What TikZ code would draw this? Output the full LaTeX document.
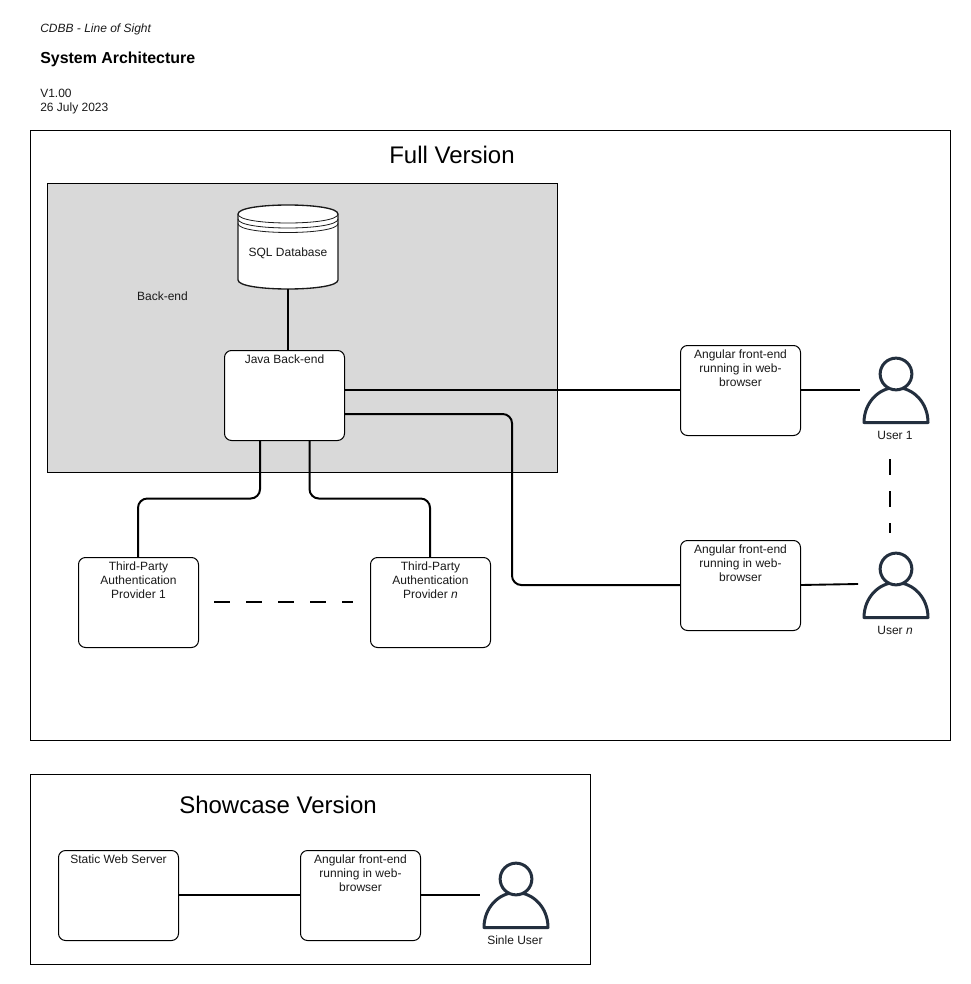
\documentclass[tikz,border=0pt]{standalone}
\usepackage{fontspec}
\setmainfont{Liberation Sans}
\definecolor{backgray}{HTML}{D9D9D9}
\definecolor{persona}{HTML}{232F3E}
\definecolor{txt}{HTML}{1A1A1A}
\tikzset{
  x=0.75pt,y=-0.75pt,
  frame/.style={draw=black,line width=0.75pt,fill=white,inner sep=0pt,outer sep=0pt},
  roundbox/.style={draw=black,line width=0.75pt,fill=white,rounded corners=5.25pt,inner sep=0pt,outer sep=0pt,minimum width=90pt,minimum height=67.5pt},
  boxtext/.style={anchor=north,align=center,inner sep=0pt,yshift=-2.7pt,text=txt,font=\fontsize{9}{10.5}\selectfont},
  small/.style={anchor=base west,inner sep=0pt,text=txt,font=\fontsize{9}{10.5}\selectfont},
  smallc/.style={anchor=base,inner sep=0pt,text=txt,font=\fontsize{9}{10.5}\selectfont},
  big/.style={anchor=base,inner sep=0pt,text=black,font=\fontsize{18}{21}\selectfont},
  conn/.style={draw=black,line width=1.5pt,line cap=butt},
  elbowconn/.style={conn,rounded corners=7pt},
  gapline/.style={conn,dash pattern=on 12pt off 12pt},
  personline/.style={draw=persona,line width=2.25pt,line join=round},
  pics/person/.style={code={
    \draw[personline] (-32,0) .. controls (-32,-20) and (-17,-35) .. (0,-35) .. controls (17,-35) and (32,-20) .. (32,0) -- cycle;
    \draw[personline,fill=white] (0,-48.5) circle[radius=11.9pt];
  }}
}
\begin{document}
\begin{tikzpicture}
\useasboundingbox (0,0) rectangle (970,984);
% frames
\draw[frame] (30.5,130.5) rectangle (950.5,740.5);
\draw[frame] (30.5,774.5) rectangle (590.5,964.5);
\draw[draw=black,line width=0.75pt,fill=backgray] (47,183.5) rectangle (557,472.5);
% header
\node[small,font=\fontsize{9}{10.5}\selectfont\itshape] (doc) at (40,33) {CDBB - Line of Sight};
\node[anchor=base west,inner sep=0pt,text=black,font=\fontsize{11.95}{14}\selectfont\bfseries] (head) at (40,64) {System Architecture};
\node[small] (ver) at (40,98) {V1.00};
\node[small] (date) at (40,112) {26 July 2023};
\node[big] (full) at (452,164) {Full Version};
\node[big] (show) at (278,813) {Showcase Version};
\node[smallc] (backlabel) at (162.5,300) {Back-end};
% boxes
\node[roundbox] (j) at (284.5,395.5) {};
\node[boxtext] (jt) at (j.north) {Java Back-end};
\node[roundbox] (a1) at (740.5,390.5) {};
\node[boxtext] (a1t) at (a1.north) {Angular front-end\\running in web-\\browser};
\node[roundbox] (a2) at (740.5,585.5) {};
\node[boxtext] (a2t) at (a2.north) {Angular front-end\\running in web-\\browser};
\node[roundbox] (p1) at (138.5,602.5) {};
\node[boxtext] (p1t) at (p1.north) {Third-Party\\Authentication\\Provider 1};
\node[roundbox] (pn) at (430.5,602.5) {};
\node[boxtext] (pnt) at (pn.north) {Third-Party\\Authentication\\Provider \textit{n}};
\node[roundbox] (sws) at (118.5,895.5) {};
\node[boxtext] (swst) at (sws.north) {Static Web Server};
\node[roundbox] (a3) at (360.5,895.5) {};
\node[boxtext] (a3t) at (a3.north) {Angular front-end\\running in web-\\browser};
% database
\node[inner sep=0pt,outer sep=0pt,minimum width=75pt,minimum height=63pt] (db) at (288,247) {};
\draw[fill=white,draw=txt,line width=1pt] (238,214) .. controls (238,202) and (338,202) .. (338,214) -- (338,280) .. controls (338,292) and (238,292) .. (238,280) -- cycle;
\draw[draw=txt,line width=0.6pt] (238,214) .. controls (238,226) and (338,226) .. (338,214);
\draw[draw=txt,line width=0.6pt] (238,219) .. controls (238,231) and (338,231) .. (338,219);
\draw[draw=txt,line width=0.6pt] (238,223.5) .. controls (238,235.5) and (338,235.5) .. (338,223.5);
\node[smallc] (dbt) at (288,256) {SQL Database};
% persons
\pic at (896,422.5) {person};
\pic at (896,617.5) {person};
\pic at (516,927.5) {person};
\node[smallc] (u1) at (895,439) {User 1};
\node[smallc] (un) at (895,634) {User \textit{n}};
\node[smallc] (su) at (515,944) {Sinle User};
% free ends
\coordinate (u1w) at (860,390);
\coordinate (unw) at (858,584);
\coordinate (suw) at (480,895);
\coordinate (r1) at (512,414);
\coordinate (r2) at (512,585);
\coordinate (j1) at (260,440.5);
\coordinate (j2) at (309.5,440.5);
\coordinate (k1) at (260,498.5);
\coordinate (k2) at (309.5,498.5);
\coordinate (q1) at (138,557.5);
\coordinate (q2) at (430,557.5);
\coordinate (dh1) at (214,602);
\coordinate (dh2) at (353,602);
\coordinate (dv1) at (890,459);
\coordinate (dv2) at (890,533);
% connectors
\draw[conn] (db.south) -- (db.south |- j.north);
\draw[conn] (j.east |- u1w) -- (a1.west |- u1w);
\draw[conn] (a1.east |- u1w) -- (u1w);
\draw[conn,line width=1.4pt] (a2.east |- r2) -- (unw);
\draw[elbowconn] (j.east |- r1) -- (r1) -- (r2) -- (a2.west |- r2);
\draw[elbowconn] (j1) -- (k1) -- (k1 -| q1) -- (q1);
\draw[elbowconn] (j2) -- (k2) -- (k2 -| q2) -- (q2);
\draw[gapline] (dh1) -- (dh2);
\draw[gapline] (dv1) -- (dv2);
\draw[conn] (sws.east |- suw) -- (a3.west |- suw);
\draw[conn] (a3.east |- suw) -- (suw);
\end{tikzpicture}
\end{document}
